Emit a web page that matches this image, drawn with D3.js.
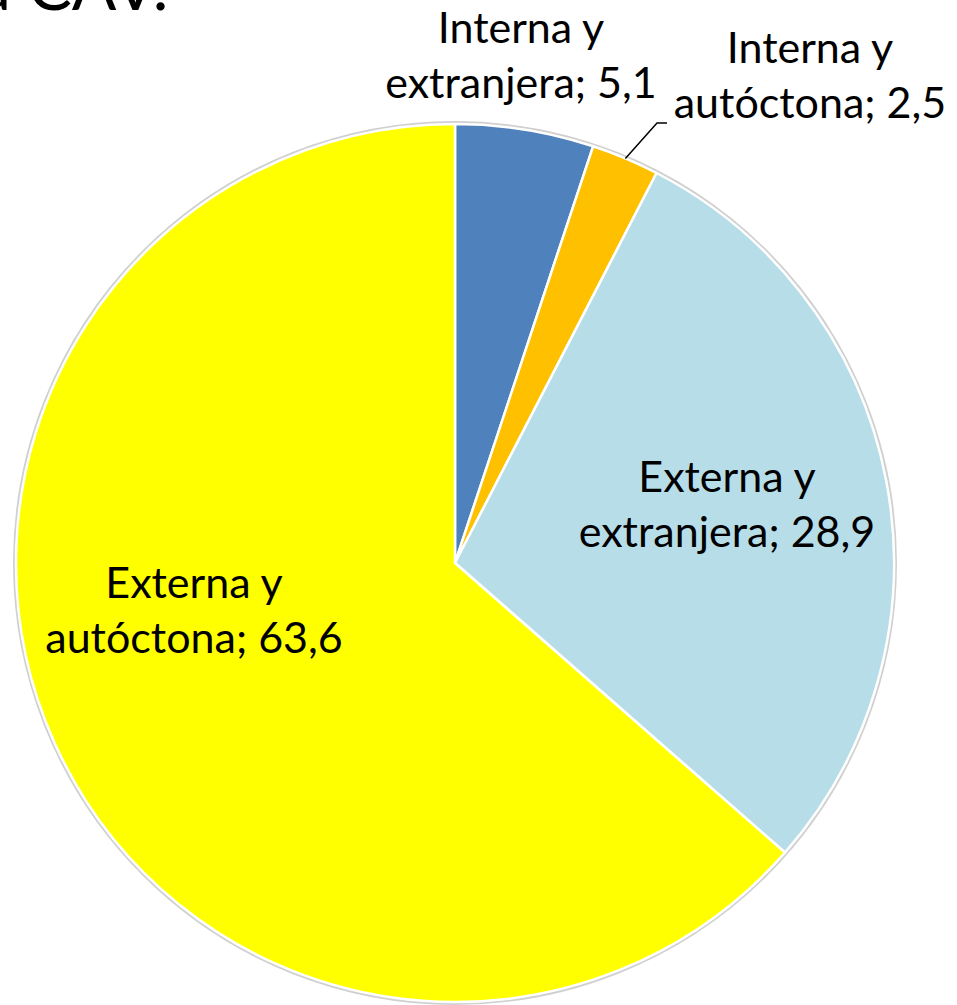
<!DOCTYPE html>
<html>
<head>
<meta charset="utf-8">
<script src="https://cdn.jsdelivr.net/npm/d3@7"></script>
<style>
	body { margin: 0; background: #fff; }
	svg { display: block; }
	text { font-family: Lato, "Open Sans", sans-serif; fill: #000; }
</style>
</head>
<body>
<div id="chart"></div>
<script>
///////////////////////////////////////////////////////////////////////////////
//// Data /////////////////////////////////////////////////////////////////////
///////////////////////////////////////////////////////////////////////////////
const categories = ["Interna y extranjera", "Interna y autóctona", "Externa y extranjera", "Externa y autóctona"];
const values = [5.1, 2.5, 28.9, 63.6];
const labelLines = [
	["Interna y", "extranjera; 5,1"],
	["Interna y", "autóctona; 2,5"],
	["Externa y", "extranjera; 28,9"],
	["Externa y", "autóctona; 63,6"]
];
const titleText = "a CAV.";

///////////////////////////////////////////////////////////////////////////////
//// Set Up ///////////////////////////////////////////////////////////////////
///////////////////////////////////////////////////////////////////////////////
const width = 957;
const height = 1005;
const center = {x: 455, y: 563};
const radius = 439;
const fontSize = 43;
const lineHeight = 55;

// label anchor (centre of first baseline) for each slice
const labelPos = [
	{x: 521, y: 43},
	{x: 810, y: 63},
	{x: 727, y: 492},
	{x: 194, y: 598}
];

const color = d3.scaleOrdinal()
		.domain(categories)
		.range(["#4F81BD", "#FFC000", "#B7DDE8", "#FFFF00"]);

const svg = d3.select("#chart").append("svg")
		.attr("width", width)
		.attr("height", height);

// Cropped slide title at the top (cut off in the original too)
svg.append("text")
		.attr("x", -22)
		.attr("y", 10)
		.style("font-size", "66px")
		.text(titleText);

///////////////////////////////////////////////////////////////////////////////
//// Pie //////////////////////////////////////////////////////////////////////
///////////////////////////////////////////////////////////////////////////////
const pie = d3.pie().sort(null).value(d => d.value);
const arc = d3.arc().innerRadius(0).outerRadius(radius);

const data = categories.map((c, i) => ({key: c, value: values[i], lines: labelLines[i], pos: labelPos[i]}));
const arcs = pie(data);

const g = svg.append("g")
		.attr("transform", `translate(${center.x}, ${center.y})`);

// soft rim around the pie
g.append("circle")
		.attr("r", radius + 1.5)
		.style("fill", "none")
		.style("stroke", "#d0d0d0")
		.style("stroke-width", 3);

g.selectAll(".slice")
	.data(arcs)
	.enter().append("path")
		.attr("class", "slice")
		.attr("d", arc)
		.style("fill", d => color(d.data.key))
		.style("stroke", "#fff")
		.style("stroke-width", 2.5)
		.style("stroke-linejoin", "round");

///////////////////////////////////////////////////////////////////////////////
//// Labels ///////////////////////////////////////////////////////////////////
///////////////////////////////////////////////////////////////////////////////
const labels = svg.selectAll(".label")
	.data(arcs)
	.enter().append("text")
		.attr("class", "label")
		.attr("text-anchor", "middle")
		.style("font-size", fontSize + "px");

labels.selectAll("tspan")
	.data(d => d.data.lines.map(l => ({text: l, pos: d.data.pos})))
	.enter().append("tspan")
		.attr("x", d => d.pos.x)
		.attr("y", (d, i) => d.pos.y + i * lineHeight)
		.text(d => d.text);

// Leader line for the small orange slice
const small = arcs[1];
const mid = (small.startAngle + small.endAngle) / 2;
const edge = [center.x + radius * Math.sin(mid), center.y - radius * Math.cos(mid)];
const lead = small.data.pos;
svg.append("polyline")
		.attr("points", [
			edge,
			[lead.x - 153, lead.y + 60],
			[lead.x - 143, lead.y + 60]
		].join(" "))
		.style("fill", "none")
		.style("stroke", "#000")
		.style("stroke-width", 1.5);
</script>
</body>
</html>
